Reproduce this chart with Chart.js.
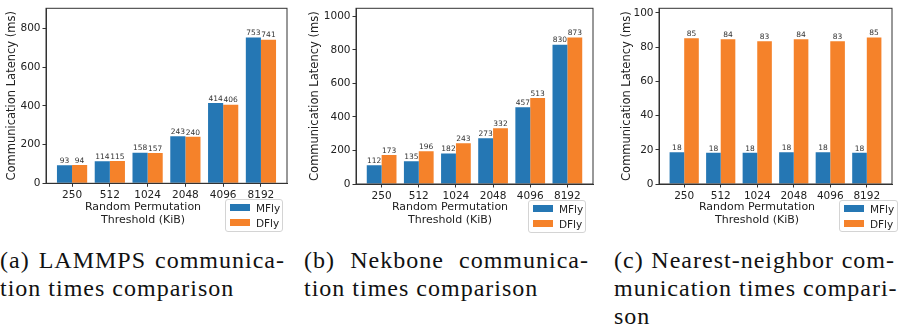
<!DOCTYPE html>
<html>
<head>
<meta charset="utf-8">
<script src="https://cdn.jsdelivr.net/npm/chart.js@4.4.0/dist/chart.umd.min.js"></script>
<style>
    body { margin: 0; width: 902px; height: 333px; background: #fff; position: relative; overflow: hidden; font-family: "DejaVu Sans", sans-serif; }
    .panel { position: absolute; top: 0; height: 240px; }
    .legend { position: absolute; border: 1px solid #d4d4d4; border-radius: 3px; background: rgba(255,255,255,0.85); box-sizing: border-box; font-size: 10.5px; color: #222; }
    .legend .sw { position: absolute; left: 4px; width: 20px; height: 7px; }
    .legend .lb { position: absolute; left: 30px; line-height: 12px; }
    .cap { position: absolute; top: 246px; font-family: "Liberation Serif", serif; font-size: 24px; line-height: 28px; color: #111; letter-spacing: 1px; }
    .cap div { white-space: nowrap; }
    .cap .j { text-align: justify; text-align-last: justify; }
</style>
</head>
<body>
<div class="panel" id="pa" style="left:0;width:300px"><canvas id="chartA"></canvas></div>
<div class="panel" id="pb" style="left:300px;width:300px"><canvas id="chartB"></canvas></div>
<div class="panel" id="pc" style="left:600px;width:302px"><canvas id="chartC"></canvas></div>

<div class="cap" style="left:0;width:285px">
    <div class="j">(a) LAMMPS communica-</div>
    <div>tion times comparison</div>
</div>
<div class="cap" style="left:304px;width:285px">
    <div class="j">(b) Nekbone communica-</div>
    <div>tion times comparison</div>
</div>
<div class="cap" style="left:614px;width:281px">
    <div class="j">(c) Nearest-neighbor com-</div>
    <div class="j">munication times compari-</div>
    <div>son</div>
</div>

<script>
// --- Data ---
const thresholds = ['250', '512', '1024', '2048', '4096', '8192'];
const seriesNames = ['MFly', 'DFly'];
const seriesColors = ['#2577b4', '#f5822a'];

const lammpsMFly = [93, 114, 158, 243, 414, 753];
const lammpsDFly = [94, 115, 157, 240, 406, 741];

const nekboneMFly = [112, 135, 182, 273, 457, 830];
const nekboneDFly = [173, 196, 243, 332, 513, 873];

const nnMFly = [18.5, 18.2, 18.2, 18.6, 18.6, 18.2];
const nnDFly = [85.2, 84.6, 83.5, 84.6, 83.5, 85.6];

const lammpsTicks = [0, 200, 400, 600, 800];
const nekboneTicks = [0, 200, 400, 600, 800, 1000];
const nnTicks = [0, 20, 40, 60, 80, 100];

const yTitle = 'Communication Latency (ms)';
const xTitle = ['Random Permutation', 'Threshold (KiB)'];

// --- Layout of each panel (pixels inside its canvas) ---
const panels = [
    { canvas: 'chartA', host: 'pa', width: 300, area: { left: 46, right: 287, top: 2.5, bottom: 183.3 },
      mfly: lammpsMFly, dfly: lammpsDFly, ticks: lammpsTicks, yTitlePad: 5, xTitleX: 143,
      legend: { left: 225, top: 199, width: 58, height: 33 } },
    { canvas: 'chartB', host: 'pb', width: 300, area: { left: 56, right: 293, top: 2.5, bottom: 184 },
      mfly: nekboneMFly, dfly: nekboneDFly, ticks: nekboneTicks, yTitlePad: 8, xTitleX: 150,
      legend: { left: 228, top: 200, width: 58, height: 33 } },
    { canvas: 'chartC', host: 'pc', width: 302, area: { left: 59, right: 292, top: 2.5, bottom: 184 },
      mfly: nnMFly, dfly: nnDFly, ticks: nnTicks, yTitlePad: 20, xTitleX: 157,
      legend: { left: 239, top: 200, width: 59, height: 32 } }
];

const PANEL_H = 240;
const textColor = '#222';
const spineColor = '#333';

// frame on all four sides, like matplotlib spines
const framePlugin = {
    id: 'frame',
    afterDraw(chart) {
        const { ctx, chartArea: a } = chart;
        ctx.save();
        ctx.strokeStyle = spineColor;
        ctx.lineWidth = 1;
        ctx.strokeRect(a.left, a.top, a.right - a.left, a.bottom - a.top);
        ctx.restore();
    }
};

// value above each bar
const barLabelPlugin = {
    id: 'barLabels',
    afterDatasetsDraw(chart) {
        const { ctx } = chart;
        ctx.save();
        ctx.font = '7.5px "DejaVu Sans"';
        ctx.fillStyle = '#333';
        ctx.textAlign = 'center';
        ctx.textBaseline = 'bottom';
        chart.data.datasets.forEach((ds, di) => {
            chart.getDatasetMeta(di).data.forEach((bar, i) => {
                ctx.fillText(String(Math.trunc(ds.data[i].y)), bar.x, bar.y - 0.5);
            });
        });
        ctx.restore();
    }
};

// two-line x title, placed like the original (slightly left of centre)
const xTitlePlugin = {
    id: 'xTitle',
    afterDraw(chart, args, opts) {
        const { ctx } = chart;
        ctx.save();
        ctx.font = '11px "DejaVu Sans"';
        ctx.fillStyle = textColor;
        ctx.textAlign = 'center';
        ctx.textBaseline = 'middle';
        ctx.fillText(xTitle[0], opts.x, 207);
        ctx.fillText(xTitle[1], opts.x, 220);
        ctx.restore();
    }
};

function buildChart(p) {
    const host = document.getElementById(p.host);
    const toPoints = arr => arr.map((v, i) => ({ x: i, y: v }));
    const yMax = Math.max(...p.mfly, ...p.dfly) * 1.2;
    const step = p.ticks[1] - p.ticks[0];

    new Chart(document.getElementById(p.canvas), {
        type: 'bar',
        data: {
            datasets: [
                { label: seriesNames[0], data: toPoints(p.mfly), backgroundColor: seriesColors[0], borderWidth: 0,
                  barPercentage: 1.0, categoryPercentage: 0.8 },
                { label: seriesNames[1], data: toPoints(p.dfly), backgroundColor: seriesColors[1], borderWidth: 0,
                  barPercentage: 1.0, categoryPercentage: 0.8 }
            ]
        },
        options: {
            responsive: false,
            animation: false,
            devicePixelRatio: 1,
            layout: { padding: { left: 0, right: p.width - p.area.right, top: p.area.top, bottom: 0 } },
            plugins: {
                legend: { display: false },
                tooltip: { enabled: false },
                xTitle: { x: p.xTitleX }
            },
            scales: {
                x: {
                    type: 'linear',
                    min: -0.69,
                    max: thresholds.length - 1 + 0.69,
                    offset: false,
                    grid: { display: true, drawOnChartArea: false, drawTicks: true, tickLength: 3.5, color: spineColor, offset: false },
                    border: { display: true, color: spineColor },
                    ticks: {
                        stepSize: 1,
                        includeBounds: false,
                        autoSkip: false,
                        maxRotation: 0,
                        padding: 2,
                        color: textColor,
                        font: { family: 'DejaVu Sans', size: 10.5 },
                        callback: v => thresholds[v] ?? ''
                    },
                    afterFit: s => { s.height = PANEL_H - p.area.bottom; }
                },
                y: {
                    min: 0,
                    max: yMax,
                    grid: { display: true, drawOnChartArea: false, drawTicks: true, tickLength: 3.5, color: spineColor },
                    border: { display: true, color: spineColor },
                    ticks: {
                        stepSize: step,
                        includeBounds: false,
                        padding: 2,
                        color: textColor,
                        font: { family: 'DejaVu Sans', size: 10.5 },
                        callback: v => String(v)
                    },
                    title: {
                        display: true,
                        text: yTitle,
                        color: textColor,
                        font: { family: 'DejaVu Sans', size: 11.5 },
                        padding: { top: p.yTitlePad, bottom: 0 }
                    },
                    afterFit: s => { s.width = p.area.left; }
                }
            }
        },
        plugins: [framePlugin, barLabelPlugin, xTitlePlugin]
    });

    // legend box (matplotlib style, below the axes on the right)
    const lg = document.createElement('div');
    lg.className = 'legend';
    Object.assign(lg.style, {
        left: (p.legend.left - host.offsetLeft) + 'px',
        top: p.legend.top + 'px',
        width: p.legend.width + 'px',
        height: p.legend.height + 'px'
    });
    seriesNames.forEach((name, i) => {
        const sw = document.createElement('div');
        sw.className = 'sw';
        sw.style.top = (4 + i * 15) + 'px';
        sw.style.background = seriesColors[i];
        const lb = document.createElement('div');
        lb.className = 'lb';
        lb.style.top = (1.5 + i * 15) + 'px';
        lb.textContent = name;
        lg.appendChild(sw);
        lg.appendChild(lb);
    });
    host.appendChild(lg);
}

panels.forEach(p => {
    const c = document.getElementById(p.canvas);
    c.width = p.width;
    c.height = PANEL_H;
    c.style.width = p.width + 'px';
    c.style.height = PANEL_H + 'px';
});

// legend positions are in page coordinates; panels b and c start at 300 and 600
panels[1].legend.left += 300;
panels[2].legend.left += 600;

panels.forEach(buildChart);
</script>
</body>
</html>
